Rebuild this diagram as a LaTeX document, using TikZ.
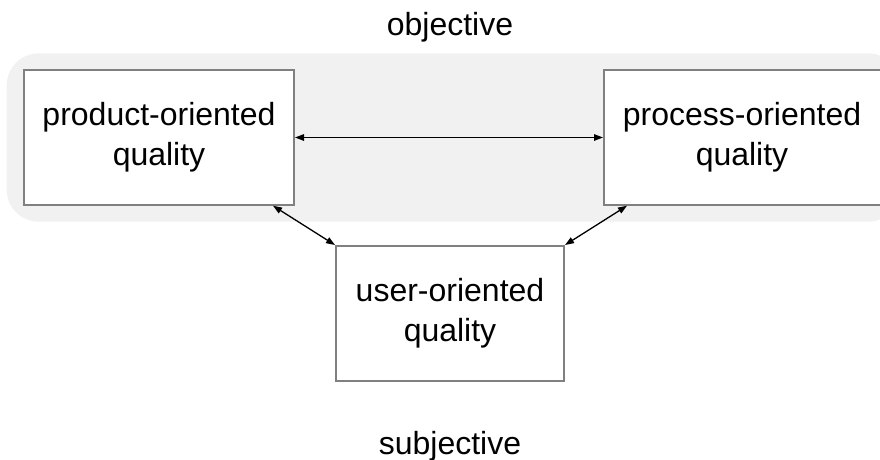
\documentclass[tikz,border=0pt]{standalone}
\usepackage{fontspec}
\setmainfont{Liberation Sans}
\usetikzlibrary{arrows.meta}
\definecolor{bandgray}{HTML}{F1F1F1}
\definecolor{boxgray}{HTML}{808080}
\newcommand{\qfont}{\fontsize{32}{40}\selectfont}
\begin{document}
\begin{tikzpicture}[x=1pt,y=-1pt,
  qbox/.style={draw=boxgray,line width=2pt,fill=white,align=center,
    font=\qfont,inner sep=0pt,outer sep=1pt},
  link/.style={black,line width=1.3pt,
    {Triangle[length=9pt,width=6.5pt]}-{Triangle[length=9pt,width=6.5pt]}},
  lbl/.style={font=\qfont,anchor=base,inner sep=0pt}]
  \useasboundingbox (0,0) rectangle (880,459);
  \clip (0,0) rectangle (880,459);

  % shaded band holding the two objective views
  \fill[bandgray,rounded corners=32pt] (6.7,53.3) rectangle (900,221.7);

  \node[lbl] (obj) at (450,35.5) {objective};
  \node[lbl] (subj) at (450,454) {subjective};

  \node[qbox,minimum width=270pt,minimum height=134.5pt] (lb) at (159,137.5)
    {product-oriented\\quality};
  \node[qbox,minimum width=282pt,minimum height=134.5pt] (rb) at (745,137.5)
    {\hspace*{-6pt}process-oriented\\\hspace*{-6pt}quality};
  \node[qbox,minimum width=228pt,minimum height=135pt] (ub) at (450,313.5)
    {user-oriented\\quality};

  \draw[link] (lb.east) -- (rb.west);
  \draw[link] ([xshift=-22pt]lb.south east) -- (ub.north west);
  \draw[link] ([xshift=24pt]rb.south west) -- (ub.north east);
\end{tikzpicture}
\end{document}
